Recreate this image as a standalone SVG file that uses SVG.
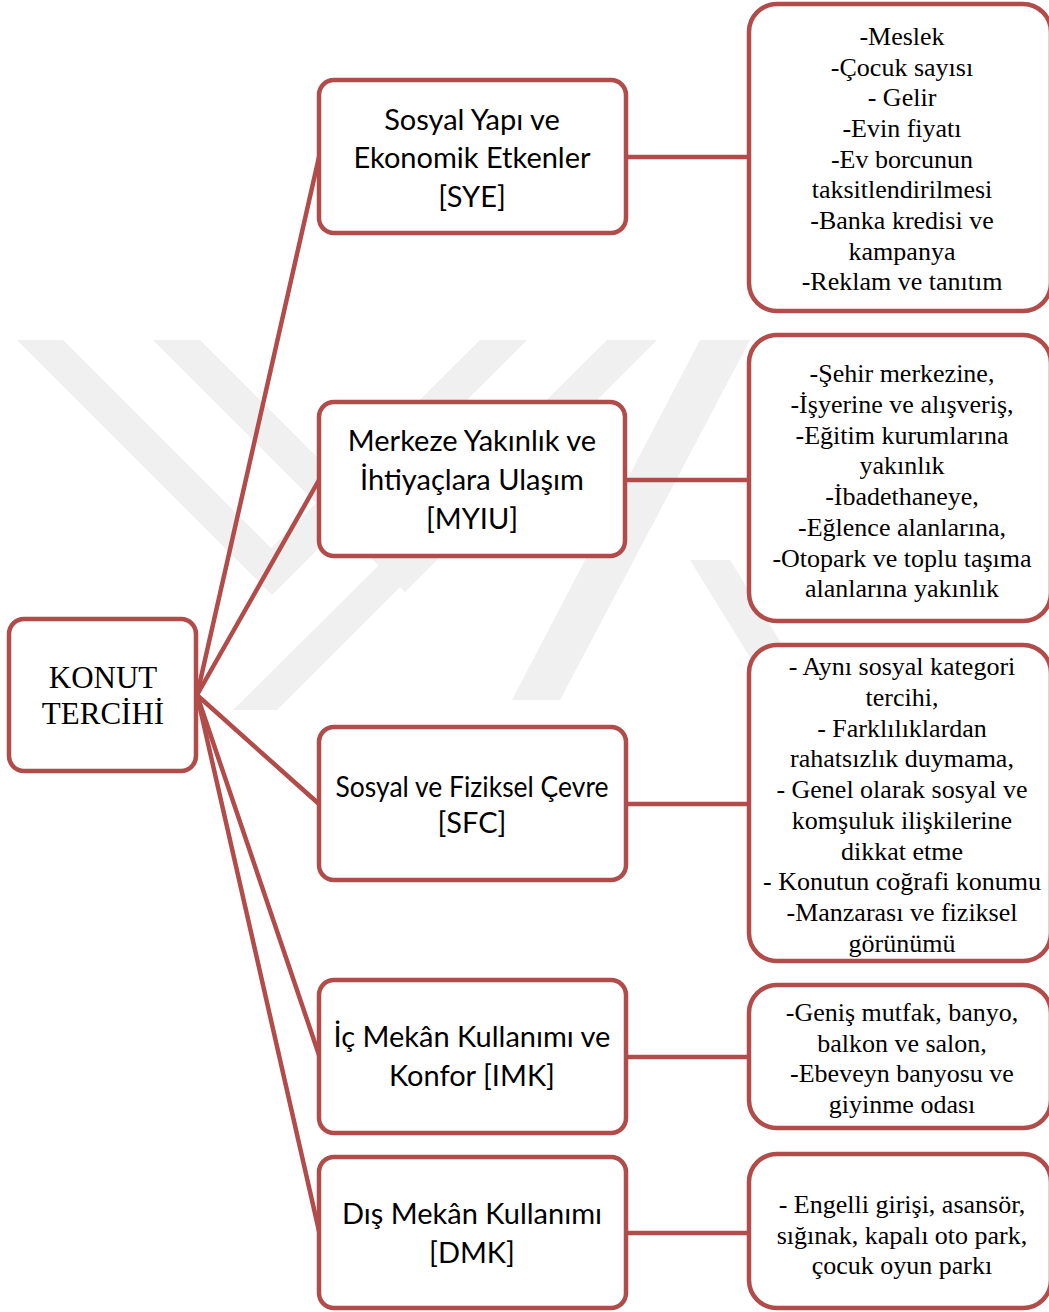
<svg xmlns="http://www.w3.org/2000/svg" width="1049" height="1312" viewBox="0 0 1049 1312">
  <style>
    .box { fill: #ffffff; stroke: #b14c4a; stroke-width: 4.5; }
    .link { fill: none; stroke: #b14c4a; stroke-width: 4.5; stroke-linecap: round; }
    .mid { font-family: Lato, "Open Sans", sans-serif; font-size: 29px; fill: #000; text-anchor: middle; }
    .serif { font-family: "Liberation Serif", "Times New Roman", serif; font-size: 26px; fill: #000; text-anchor: middle; }
    .root { font-family: "Liberation Serif", "Times New Roman", serif; font-size: 31px; fill: #000; text-anchor: middle; }
    .wm { fill: #f0f0f0; }
  </style>

  <rect x="0" y="0" width="1049" height="1312" fill="#ffffff"/>

  <!-- faint background emblem: nested chevrons and a crossing bar -->
  <g id="emblem">
    <polygon class="wm" points="17,340 63,340 271,548 480,340 527,340 272,595"/>
    <polygon class="wm" points="153,340 200,340 403,543 607,340 657,340 405,592"/>
    <polygon class="wm" points="233,710 277,710 560,427 540,405"/>
    <polygon class="wm" points="700,340 750,340 560,700 512,700"/>
    <polygon class="wm" points="690,560 730,560 810,690 770,690"/>
  </g>

  <!-- connectors -->
  <g id="connectors">
    <line class="link" x1="197" y1="695" x2="319" y2="157"/>
    <line class="link" x1="197" y1="695" x2="319" y2="480"/>
    <line class="link" x1="197" y1="695" x2="319" y2="804"/>
    <line class="link" x1="197" y1="695" x2="319" y2="1055"/>
    <line class="link" x1="197" y1="695" x2="319" y2="1231"/>
    <line class="link" x1="626" y1="157" x2="749" y2="157"/>
    <line class="link" x1="626" y1="480" x2="749" y2="480"/>
    <line class="link" x1="626" y1="804" x2="749" y2="804"/>
    <line class="link" x1="626" y1="1057" x2="749" y2="1057"/>
    <line class="link" x1="626" y1="1233" x2="749" y2="1233"/>
  </g>

  <g id="konut-tercihi">
    <rect class="box" x="9" y="619" width="187" height="152" rx="15"/>
    <text class="root" x="103" y="688">KONUT</text>
    <text class="root" x="103" y="724">TERCİHİ</text>
  </g>

  <g id="sye">
    <rect class="box" x="319" y="80" width="307" height="153" rx="15"/>
    <text class="mid" x="472" y="130">Sosyal Yapı ve</text>
    <text class="mid" x="472" y="168">Ekonomik Etkenler</text>
    <text class="mid" x="472" y="207">[SYE]</text>
  </g>

  <g id="myiu">
    <rect class="box" x="319" y="402" width="306" height="154" rx="15"/>
    <text class="mid" x="472" y="451">Merkeze Yakınlık ve</text>
    <text class="mid" x="472" y="490">İhtiyaçlara Ulaşım</text>
    <text class="mid" x="472" y="529">[MYIU]</text>
  </g>

  <g id="sfc">
    <rect class="box" x="319" y="727" width="307" height="153" rx="15"/>
    <text class="mid" x="472" y="797" textLength="273" lengthAdjust="spacingAndGlyphs">Sosyal ve Fiziksel Çevre</text>
    <text class="mid" x="472" y="833">[SFC]</text>
  </g>

  <g id="imk">
    <rect class="box" x="319" y="980" width="307" height="153" rx="15"/>
    <text class="mid" x="472" y="1047">İç Mekân Kullanımı ve</text>
    <text class="mid" x="472" y="1086">Konfor [IMK]</text>
  </g>

  <g id="dmk">
    <rect class="box" x="319" y="1157" width="307" height="151" rx="15"/>
    <text class="mid" x="472" y="1224">Dış Mekân Kullanımı</text>
    <text class="mid" x="472" y="1263">[DMK]</text>
  </g>

  <g id="sye-items">
    <rect class="box" x="749" y="4" width="302" height="307" rx="28"/>
    <text class="serif" x="902" y="45">-Meslek</text>
    <text class="serif" x="902" y="76">-Çocuk sayısı</text>
    <text class="serif" x="902" y="106">- Gelir</text>
    <text class="serif" x="902" y="137">-Evin fiyatı</text>
    <text class="serif" x="902" y="168">-Ev borcunun</text>
    <text class="serif" x="902" y="198">taksitlendirilmesi</text>
    <text class="serif" x="902" y="229">-Banka kredisi ve</text>
    <text class="serif" x="902" y="260">kampanya</text>
    <text class="serif" x="902" y="290">-Reklam ve tanıtım</text>
  </g>

  <g id="myiu-items">
    <rect class="box" x="749" y="335" width="302" height="286" rx="28"/>
    <text class="serif" x="902" y="382">-Şehir merkezine,</text>
    <text class="serif" x="902" y="413">-İşyerine ve alışveriş,</text>
    <text class="serif" x="902" y="444">-Eğitim kurumlarına</text>
    <text class="serif" x="902" y="474">yakınlık</text>
    <text class="serif" x="902" y="505">-İbadethaneye,</text>
    <text class="serif" x="902" y="536">-Eğlence alanlarına,</text>
    <text class="serif" x="902" y="567">-Otopark ve toplu taşıma</text>
    <text class="serif" x="902" y="597">alanlarına yakınlık</text>
  </g>

  <g id="sfc-items">
    <rect class="box" x="749" y="645" width="302" height="316" rx="28"/>
    <text class="serif" x="902" y="675">- Aynı sosyal kategori</text>
    <text class="serif" x="902" y="706">tercihi,</text>
    <text class="serif" x="902" y="737">- Farklılıklardan</text>
    <text class="serif" x="902" y="767">rahatsızlık duymama,</text>
    <text class="serif" x="902" y="798">- Genel olarak sosyal ve</text>
    <text class="serif" x="902" y="829">komşuluk ilişkilerine</text>
    <text class="serif" x="902" y="860">dikkat etme</text>
    <text class="serif" x="902" y="890">- Konutun coğrafi konumu</text>
    <text class="serif" x="902" y="921">-Manzarası ve fiziksel</text>
    <text class="serif" x="902" y="952">görünümü</text>
  </g>

  <g id="imk-items">
    <rect class="box" x="749" y="985" width="302" height="143" rx="28"/>
    <text class="serif" x="902" y="1021">-Geniş mutfak, banyo,</text>
    <text class="serif" x="902" y="1052">balkon ve salon,</text>
    <text class="serif" x="902" y="1082">-Ebeveyn banyosu ve</text>
    <text class="serif" x="902" y="1113">giyinme odası</text>
  </g>

  <g id="dmk-items">
    <rect class="box" x="749" y="1154" width="302" height="154" rx="28"/>
    <text class="serif" x="902" y="1213">- Engelli girişi, asansör,</text>
    <text class="serif" x="902" y="1244">sığınak, kapalı oto park,</text>
    <text class="serif" x="902" y="1274">çocuk oyun parkı</text>
  </g>
</svg>
